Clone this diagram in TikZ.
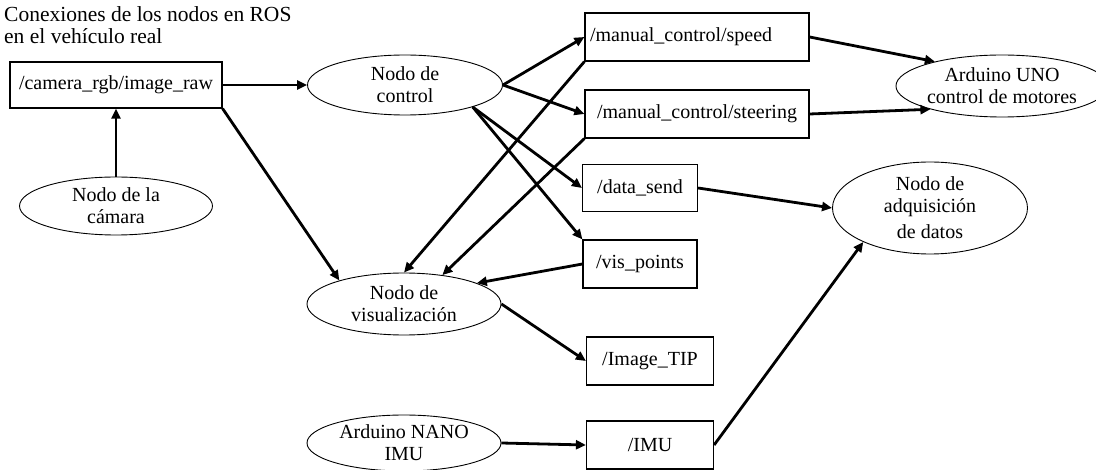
\documentclass[tikz,border=0pt]{standalone}
\usepackage{fontspec}
\setmainfont{Liberation Serif}
\usetikzlibrary{shapes.geometric,arrows.meta}
\begin{document}
\begin{tikzpicture}[x=1pt,y=-1pt,
  every node/.style={font=\fontsize{20}{22}\selectfont, align=center, inner sep=0pt},
  topic/.style={draw, line width=1.2pt, rectangle},
  rosnode/.style={draw, line width=0.9pt, ellipse},
  conn/.style={line width=2.8pt, -{Triangle[length=10pt,width=9pt]}}]
\useasboundingbox (0,0) rectangle (1096,470);
\node[anchor=north west, align=left, font=\fontsize{21.5}{22}\selectfont] (title) at (4,6) {Conexiones de los nodos en ROS\\en el vehículo real};
\node[topic, minimum width=212, minimum height=46] (cam) at (116,85) {/camera\_rgb/image\_raw};
\node[rosnode, minimum width=193, minimum height=58] (camnode) at (116,206) {Nodo de la\\cámara};
\node[rosnode, minimum width=195, minimum height=60] (ctrl) at (405,85) {Nodo de\\control};
\node[topic, text width=214, inner xsep=5, align=left, minimum height=48] (speed) at (697,37) {/manual\_control/speed};
\node[topic, minimum width=224, minimum height=48] (steer) at (697,114) {/manual\_control/steering};
\node[topic, minimum width=115, minimum height=47] (data) at (640,188) {/data\_send};
\node[topic, minimum width=114, minimum height=48] (vis) at (640,264) {/vis\_points};
\node[rosnode, minimum width=194, minimum height=62] (visu) at (404,304) {Nodo de\\visualización};
\node[topic, minimum width=127, minimum height=48] (tip) at (650,361) {/Image\_TIP};
\node[rosnode, minimum width=194, minimum height=56] (nano) at (404,443) {Arduino NANO\\IMU};
\node[topic, minimum width=127, minimum height=48] (imu) at (650,445) {/IMU};
\node[rosnode, minimum width=184, minimum height=62] (uno) at (1002,86) {Arduino UNO\\control de motores};
\node[rosnode, minimum width=195, minimum height=92] (adq) at (930,208) {Nodo de\\adquisición\\[4pt]de datos};

\draw[conn] (cam.east) -- (ctrl.west);
\draw[conn] (camnode.north) -- (cam.south);
\draw[conn] (cam.south east) -- (visu.160);
\draw[conn] (ctrl.east) -- (speed.west);
\draw[conn] (ctrl.east) -- (steer.west);
\draw[conn] (ctrl.-18) -- (data.west);
\draw[conn] (ctrl.-18) -- (vis.north west);
\draw[conn] (speed.south west) -- (visu.north);
\draw[conn] (steer.south west) -- (visu.37);
\draw[conn] (vis.west) -- (visu.16);
\draw[conn] (visu.east) -- (tip.west);
\draw[conn] (nano.east) -- (imu.west);
\draw[conn] (imu.east) -- (adq.207);
\draw[conn] (data.east) -- (adq.west);
\draw[conn] (speed.east) -- (uno.160);
\draw[conn] (steer.east) -- (uno.198);
\end{tikzpicture}
\end{document}
